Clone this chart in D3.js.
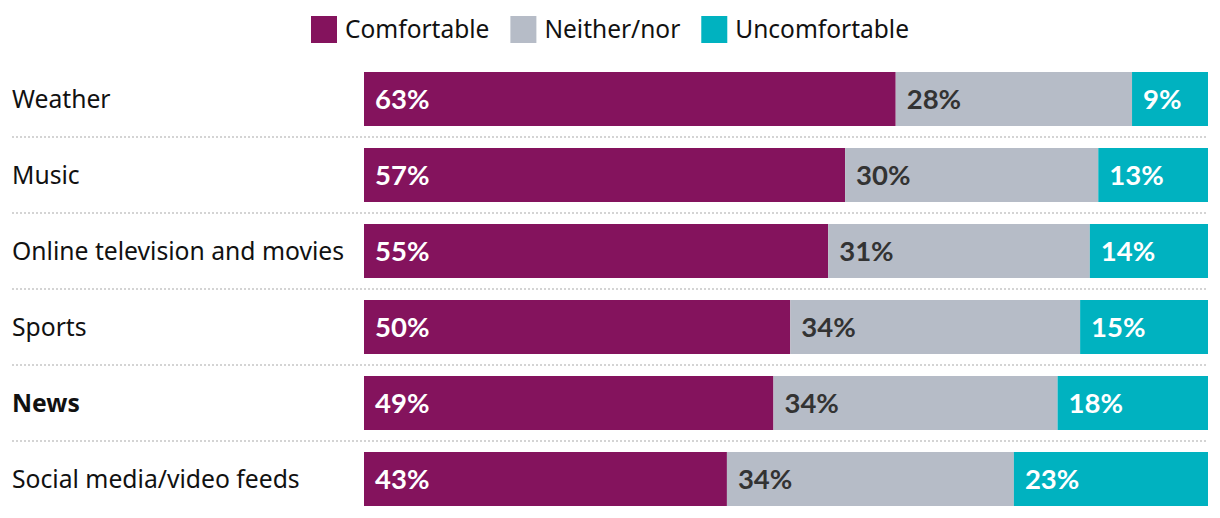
<!DOCTYPE html>
<html>
<head>
<meta charset="utf-8">
<script src="https://cdn.jsdelivr.net/npm/d3@7"></script>
<style>
  body { margin: 0; background: #fff; }
  svg { display: block; }
</style>
</head>
<body>
<svg id="chart" width="1220" height="518"></svg>
<script>
// data
const categories = ["Weather", "Music", "Online television and movies", "Sports", "News", "Social media/video feeds"]
const comfortable = [63, 57, 55, 50, 49, 43]
const neither = [28, 30, 31, 34, 34, 34]
const uncomfortable = [9, 13, 14, 15, 18, 23]
const seriesNames = ["Comfortable", "Neither/nor", "Uncomfortable"]
const highlighted = "News"

const colors = ["#84135d", "#b6bcc7", "#00b2c0"]
const labelColors = ["#ffffff", "#333333", "#ffffff"]

const width = 1220, height = 518
const svg = d3.select("#chart")

// build rows for d3.stack
const rows = categories.map((c, i) => ({
    cat: c,
    "Comfortable": comfortable[i],
    "Neither/nor": neither[i],
    "Uncomfortable": uncomfortable[i]
}))
const stacked = d3.stack().keys(seriesNames).offset(d3.stackOffsetExpand)(rows)

const x = d3.scaleLinear().domain([0, 1]).range([364, 1208])
const y = d3.scaleBand().domain(categories).range([61, 517])
    .paddingInner(22 / 76).paddingOuter(11 / 76)

// dotted separators between rows
svg.append("g").selectAll("line")
    .data(categories.slice(1))
    .join("line")
    .attr("x1", 12).attr("x2", 1208)
    .attr("y1", d => y(d) - y.step() * y.paddingInner() / 2)
    .attr("y2", d => y(d) - y.step() * y.paddingInner() / 2)
    .attr("stroke", "#d4d4d4")
    .attr("stroke-width", 2)
    .attr("stroke-dasharray", "2,2")

// category labels
svg.append("g").selectAll("text")
    .data(categories)
    .join("text")
    .attr("x", 12)
    .attr("y", d => y(d) + y.bandwidth() / 2)
    .attr("dy", "0.36em")
    .attr("font-family", "'Noto Sans', sans-serif")
    .attr("font-size", 24.7)
    .attr("font-weight", d => d == highlighted ? "bold" : "normal")
    .attr("fill", "#111")
    .text(d => d)

// bars
const layer = svg.append("g").selectAll("g")
    .data(stacked)
    .join("g")
    .attr("fill", (d, i) => colors[i])

layer.selectAll("rect")
    .data(d => d)
    .join("rect")
    .attr("x", d => x(d[0]))
    .attr("width", d => x(d[1]) - x(d[0]))
    .attr("y", d => y(d.data.cat))
    .attr("height", y.bandwidth())

// value labels
svg.append("g").selectAll("g")
    .data(stacked)
    .join("g")
    .attr("fill", (d, i) => labelColors[i])
    .selectAll("text")
    .data(d => d.map(p => ({ p: p, key: d.key })))
    .join("text")
    .attr("x", d => x(d.p[0]) + 11)
    .attr("y", d => y(d.p.data.cat) + y.bandwidth() / 2)
    .attr("dy", "0.36em")
    .attr("font-family", "Lato, sans-serif")
    .attr("font-weight", "bold")
    .attr("font-size", 27.5)
    .text(d => d.p.data[d.key] + "%")

// legend, centred over the chart
const legend = svg.append("g")
const items = legend.selectAll("g")
    .data(seriesNames)
    .join("g")
items.append("rect")
    .attr("width", 26).attr("height", 27)
    .attr("y", 16)
    .attr("fill", (d, i) => colors[i])
items.append("text")
    .attr("x", 34)
    .attr("y", 29.5)
    .attr("dy", "0.36em")
    .attr("font-family", "'Noto Sans', sans-serif")
    .attr("font-size", 24.5)
    .attr("fill", "#111")
    .text(d => d)
let off = 0
items.each(function () {
    let g = d3.select(this)
    g.attr("transform", `translate(${off},0)`)
    off += 34 + g.select("text").node().getComputedTextLength() + 21
})
off -= 21
legend.attr("transform", `translate(${(width - off) / 2 - 0},0)`)
</script>
</body>
</html>
